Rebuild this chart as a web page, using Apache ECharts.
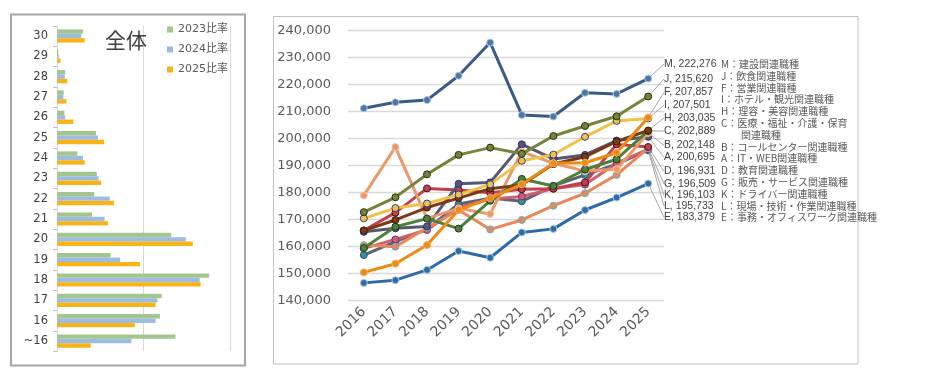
<!DOCTYPE html>
<html><head><meta charset="utf-8">
<script src="https://cdn.jsdelivr.net/npm/echarts@6/dist/echarts.min.js"></script>
<style>html,body{margin:0;padding:0;background:#fff}#c{width:950px;height:380px}</style>
</head><body><div id="c"></div>
<script>
// ---- left panel data (percent) ----
const ageCats = ['30','29','28','27','26','25','24','23','22','21','20','19','18','17','16','~16'];
const rate2023 = [3.0,0.15,0.95,0.77,0.85,4.5,2.35,4.6,4.3,4.05,13.2,6.2,17.6,12.1,11.9,13.7];
const rate2024 = [2.8,0.2,0.9,0.73,0.95,4.75,3.0,4.8,6.1,5.5,14.9,7.3,16.5,11.6,11.4,8.6];
const rate2025 = [3.2,0.4,1.2,1.08,1.88,5.45,3.2,5.1,6.6,5.9,15.7,9.6,16.6,11.4,9.0,3.9];
const barNames = ['2023比率','2024比率','2025比率'];
const panelTitle = '全体';

// ---- right panel data ----
const years = ['2016','2017','2018','2019','2020','2021','2022','2023','2024','2025'];
const yTicks = {min:140000, max:240000, step:10000};
const serM = [211300,213500,214300,223300,235600,208800,208200,217000,216600,222276];
const serJ = [172800,178300,186800,194000,196700,194400,201000,204700,208300,215620];
const serF = [150500,153700,160600,173600,178000,183100,190900,191100,194800,207857];
const serI = [170500,174300,176000,179300,183100,191800,194100,200700,206600,207501];
const serH = [166000,169900,174500,178000,181500,182900,190600,193300,199000,203035];
const serC = [159500,167400,170400,166700,177000,185100,182500,188600,192400,202889];
const serB = [179000,196900,170500,174200,172100,195200,190900,188000,188700,202148];
const serA = [165500,166800,167500,183300,183800,197900,192500,194000,199300,200695];
const serD = [166000,172600,181600,181000,180000,181300,181500,183800,197900,196931];
const serG = [160600,160000,167000,173600,166400,169900,175200,179800,186600,196509];
const serK = [159400,162700,166200,174500,177600,178600,181500,183000,190900,196103];
const serL = [156900,161900,166500,175800,178000,176800,182500,186600,190600,195733];
const serE = [146600,147600,151400,158400,155900,165300,166600,173600,178200,183379];
const seriesCodes = ['M','J','F','I','H','C','B','A','D','G','K','L','E'];
const seriesData = [serM,serJ,serF,serI,serH,serC,serB,serA,serD,serG,serK,serL,serE];
const descLines = ['M：建設関連職種','J：飲食関連職種','F：営業関連職種','I：ホテル・観光関連職種',
  'H：理容・美容関連職種','C：医療・福祉・介護・保育','\u3000\u3000関連職種','B：コールセンター関連職種',
  'A：IT・WEB関連職種','D：教育関連職種','G：販売・サービス関連職種','K：ドライバー関連職種',
  'L：現場・技術・作業関連職種','E：事務・オフィスワーク関連職種'];

// ---- styles ----
const barColors = ['#A3C68C','#9DBCE1','#F6B419'];
const lineStyles = {
  M:{c:'#3B5B84',f:'#4F77A6',b:'#A9CBE2'},
  J:{c:'#77823A',f:'#76823A',b:'#263010'},
  F:{c:'#EC8A12',f:'#EC8A12',b:'#F3B26A'},
  I:{c:'#F2C14A',f:'#F2C14A',b:'#343C8C'},
  H:{c:'#7B3A17',f:'#7B3A17',b:'#3A1A08'},
  C:{c:'#4E7F3B',f:'#4E7F3B',b:'#1E3A18'},
  B:{c:'#E99A68',f:'#E99A68',b:'#F2C8A8'},
  A:{c:'#575673',f:'#575673',b:'#2C2E7A'},
  D:{c:'#C0404E',f:'#C0404E',b:'#4A1018'},
  G:{c:'#E8875A',f:'#E8875A',b:'#5AB5C8'},
  K:{c:'#CE5F6A',f:'#CE5F6A',b:'#7A2A8A'},
  L:{c:'#5E6078',f:'#3C8C9A',b:'#2A5A70'},
  E:{c:'#2E6BA6',f:'#2E6BA6',b:'#A9CBE2'}
};
const labelRowY = [64,79,92.5,105,118,131,145.5,157.5,171.5,184,195,206,217.3];
const labelX = 664, elbowX = 656;

const chart = echarts.init(document.getElementById('c'), null, {renderer:'canvas'});
const numFont = 'DejaVu Sans';
const series = [];
[rate2023, rate2024, rate2025].forEach((arr,i)=>{
  series.push({name:barNames[i], type:'bar', xAxisIndex:0, yAxisIndex:0, data:arr,
    barWidth:4.4, barGap:'0%', itemStyle:{color:barColors[i]}, silent:true});
});
seriesCodes.forEach((code,i)=>{
  const st = lineStyles[code];
  const arr = seriesData[i];
  const rowY = labelRowY[i];
  const data = arr.map((v,j)=> j===arr.length-1 ? {value:v, label:{show:true}} : v);
  series.push({name:code, type:'line', xAxisIndex:1, yAxisIndex:1, data,
    symbol:'circle', symbolSize:7, z: 20-i,
    lineStyle:{color:st.c, width:3}, itemStyle:{color:st.f, borderColor:st.b, borderWidth:1},
    label:{show:false, formatter:(p)=> code + ', ' + p.value.toLocaleString('en-US'),
      fontFamily:'Liberation Sans', fontSize:10.5, color:'#404040'},
    labelLayout:(p)=>{
      const cx = p.rect.x + p.rect.width/2, cy = p.rect.y + p.rect.height/2;
      return {x:labelX, y:rowY, align:'left', verticalAlign:'middle',
        labelLinePoints:[[cx,cy],[elbowX,rowY],[labelX-1,rowY]]};
    },
    labelLine:{show:true, lineStyle:{color:'#A6A6A6', width:1}},
    animation:false});
});

chart.setOption({
  animation:false,
  title:{text:panelTitle, left:100, top:25, textStyle:{fontSize:21, fontWeight:'normal', color:'#404040', fontFamily:'Noto Sans CJK JP'}},
  legend:{data:barNames, orient:'vertical', left:162, top:19, itemWidth:6, itemHeight:6, itemGap:9,
    icon:'rect', textStyle:{fontSize:11, color:'#595959', fontFamily:'DejaVu Sans, Noto Sans CJK JP'}},
  grid:[{left:57, top:25.8, width:173, height:325.4},
        {left:348, top:30.7, width:316, height:270}],
  xAxis:[
    {gridIndex:0, type:'value', min:0, max:20, interval:10, axisLabel:{show:false},
     axisLine:{show:false}, axisTick:{show:false}, splitLine:{lineStyle:{color:'#D9D9D9'}}},
    {gridIndex:1, type:'category', data:years, boundaryGap:true,
     axisLine:{lineStyle:{color:'#D9D9D9'}}, axisTick:{show:false},
     axisLabel:{rotate:45, fontSize:14, color:'#595959', fontFamily:numFont, margin:9}},
  ],
  yAxis:[
    {gridIndex:0, type:'category', data:ageCats, inverse:true,
     axisLine:{show:true, lineStyle:{color:'#D9D9D9'}}, axisTick:{show:true, length:4, lineStyle:{color:'#BFBFBF'}},
     axisLabel:{fontSize:11.5, color:'#404040', fontFamily:numFont, margin:9}},
    {gridIndex:1, type:'value', min:yTicks.min, max:yTicks.max, interval:yTicks.step,
     axisLine:{show:false}, axisTick:{show:false},
     axisLabel:{fontSize:13, color:'#595959', fontFamily:numFont, margin:17,
       formatter:(v)=>v.toLocaleString('en-US')},
     splitLine:{lineStyle:{color:'#D9D9D9', width:1.3}}}
  ],
  graphic:[
    {type:'rect', shape:{x:11, y:14.5, width:234, height:351}, style:{fill:'none', stroke:'#A6A6A6', lineWidth:2}, silent:true},
    {type:'rect', shape:{x:273.5, y:16.5, width:584.5, height:347.5}, style:{fill:'none', stroke:'#BFBFBF', lineWidth:1}, silent:true},
    {type:'text', x:721, y:58.4, silent:true,
     style:{text:descLines.join('\n'), fontSize:10, lineHeight:11.8, fill:'#595959', fontFamily:'Noto Sans CJK JP'}}
  ],
  series
});
</script></body></html>
